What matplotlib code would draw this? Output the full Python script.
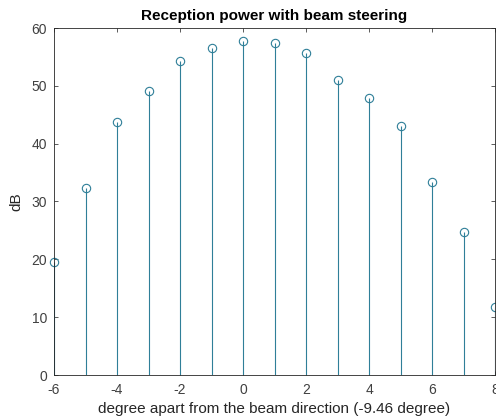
import matplotlib
matplotlib.use("Agg")
import matplotlib.pyplot as plt

# -------------------------
# DATA
# -------------------------
offsets = [-6, -5, -4, -3, -2, -1, 0, 1, 2, 3, 4, 5, 6, 7, 8]
power_db = [19.5, 32.3, 43.8, 49.1, 54.3, 56.6, 57.8, 57.4, 55.7, 51.0, 47.9, 43.1, 33.4, 24.7, 11.8]
x_ticks = [-6, -4, -2, 0, 2, 4, 6, 8]
y_ticks = [0, 10, 20, 30, 40, 50, 60]

stem_color = "#2f7f98"

# -------------------------
# PLOT
# -------------------------
plt.rcParams["font.family"] = ["Liberation Sans", "DejaVu Sans"]
plt.rcParams["axes.unicode_minus"] = False
fig = plt.figure(figsize=(4.96, 4.19), dpi=100)
ax = fig.add_axes([54 / 496, 1 - 375 / 419, 441 / 496, 347 / 419])

markers, stems, base = ax.stem(offsets, power_db, basefmt=" ")
plt.setp(stems, color=stem_color, linewidth=0.8)
plt.setp(markers, markerfacecolor="none", markeredgecolor=stem_color,
         markersize=6, markeredgewidth=0.8)
markers.set_clip_on(False)

ax.set_xlim(-6, 8)
ax.set_ylim(0, 60)
ax.set_xticks(x_ticks)
ax.set_yticks(y_ticks)
ax.tick_params(direction="in", length=3, width=0.6, labelsize=10,
               colors="#404040", top=True, right=True)
ax.tick_params(axis="x", pad=6)
ax.tick_params(axis="y", pad=5)
for s in ax.spines.values():
    s.set_color("#262626")
    s.set_linewidth(0.6)

ax.set_title("Reception power with beam steering", fontsize=11,
             fontweight="bold", pad=6)
ax.set_xlabel("degree apart from the beam direction (-9.46 degree)",
              fontsize=11, color="#262626", labelpad=3)
ax.set_ylabel("dB", fontsize=11, color="#262626", labelpad=6)

fig.savefig("out.png", dpi=100)
